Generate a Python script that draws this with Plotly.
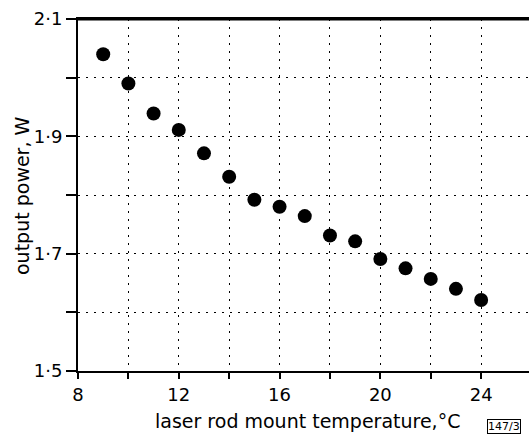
import plotly.graph_objects as go

temperature = [9, 10, 11, 12, 13, 14, 15, 16, 17, 18, 19, 20, 21, 22, 23, 24]
power = [2.040, 1.990, 1.939, 1.911, 1.871, 1.831, 1.792, 1.780, 1.764, 1.731,
         1.721, 1.691, 1.675, 1.657, 1.640, 1.621]

x_ticks = [8, 10, 12, 14, 16, 18, 20, 22, 24]
x_labels = ["8", "", "12", "", "16", "", "20", "", "24"]
y_ticks = [1.5, 1.6, 1.7, 1.8, 1.9, 2.0, 2.1]
y_labels = ["1·5", "", "1·7", "", "1·9", "", "2·1"]

FONT = "DejaVu Sans"
W, H = 529, 434
L, R, T, B = 78, 0, 19, 63

fig = go.Figure()
fig.add_trace(go.Scatter(
    x=temperature, y=power, mode="markers",
    marker=dict(color="black", size=14, line=dict(width=0)),
    showlegend=False, hoverinfo="skip",
))

pw = W - L - R
ph = H - T - B


def px(x):
    return (x - L) / pw


def py(y):
    return (H - B - y) / ph


fig.update_layout(
    width=W, height=H,
    margin=dict(l=L, r=R, t=T, b=B),
    paper_bgcolor="white", plot_bgcolor="white",
    font=dict(family=FONT, color="black", size=17),
    xaxis=dict(
        range=[8, 25.9], tickmode="array", tickvals=x_ticks, ticktext=x_labels,
        showgrid=True, gridcolor="black", griddash="2px,6px", gridwidth=1.2,
        showline=True, linecolor="black", linewidth=2, mirror=True,
        ticks="outside", ticklen=6, tickwidth=1.5, tickcolor="black",
        zeroline=False, tickfont=dict(size=18, family=FONT),
    ),
    yaxis=dict(
        range=[1.5, 2.1], tickmode="array", tickvals=y_ticks, ticktext=y_labels,
        showgrid=True, gridcolor="black", griddash="2px,6px", gridwidth=1.2,
        showline=True, linecolor="black", linewidth=2,
        ticks="outside", ticklen=10, tickwidth=1.5, tickcolor="black",
        zeroline=False, tickfont=dict(size=18, family=FONT),
    ),
    shapes=[
        dict(type="line", xref="paper", yref="paper", x0=0, x1=1, y0=1, y1=1,
             line=dict(color="black", width=3)),
    ],
    annotations=[
        dict(text="laser rod mount temperature,°C", x=px(307), y=py(421),
             xref="paper", yref="paper", xanchor="center", yanchor="middle",
             showarrow=False, font=dict(size=19, family=FONT)),
        dict(text="output power, W", x=px(22), y=py(196),
             xref="paper", yref="paper", xanchor="center", yanchor="middle",
             showarrow=False, textangle=-90, font=dict(size=19, family=FONT)),
        dict(text="147/3", x=px(504), y=py(426),
             xref="paper", yref="paper", xanchor="center", yanchor="middle",
             showarrow=False, borderwidth=1, bordercolor="black",
             borderpad=0, font=dict(size=11, family=FONT)),
    ],
)

fig.write_html(
    "out.html",
    config={"displayModeBar": False},
    post_script="document.body.style.margin='0';document.body.style.overflow='hidden';",
)
